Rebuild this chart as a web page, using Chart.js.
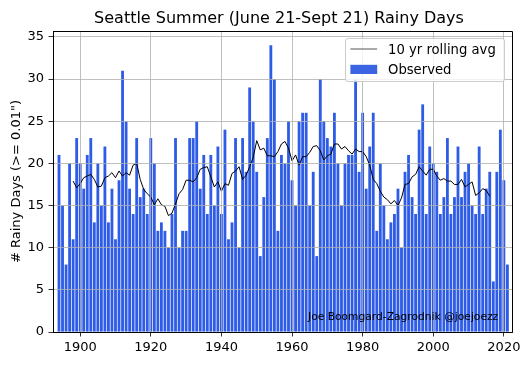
<!DOCTYPE html>
<html>
<head>
<meta charset="utf-8">
<script src="https://cdn.jsdelivr.net/npm/chart.js@4.4.1/dist/chart.umd.min.js"></script>
<style>
html,body{margin:0;padding:0;background:#ffffff;}
#wrap{width:531px;height:365px;position:relative;}
</style>
</head>
<body>
<div id="wrap"><canvas id="c" width="531" height="365"></canvas></div>
<script>
// ---- data ----
const years = [
  1894,1895,1896,1897,1898,1899,1900,1901,1902,1903,1904,1905,1906,1907,1908,1909,
  1910,1911,1912,1913,1914,1915,1916,1917,1918,1919,1920,1921,1922,1923,1924,1925,
  1926,1927,1928,1929,1930,1931,1932,1933,1934,1935,1936,1937,1938,1939,1940,1941,
  1942,1943,1944,1945,1946,1947,1948,1949,1950,1951,1952,1953,1954,1955,1956,1957,
  1958,1959,1960,1961,1962,1963,1964,1965,1966,1967,1968,1969,1970,1971,1972,1973,
  1974,1975,1976,1977,1978,1979,1980,1981,1982,1983,1984,1985,1986,1987,1988,1989,
  1990,1991,1992,1993,1994,1995,1996,1997,1998,1999,2000,2001,2002,2003,2004,2005,
  2006,2007,2008,2009,2010,2011,2012,2013,2014,2015,2016,2017,2018,2019,2020,2021
];
const observed = [
  21,15,8,20,11,23,20,17,21,23,13,20,15,22,13,17,
  11,18,31,25,17,14,23,16,17,14,23,20,12,13,12,10,
  14,23,10,12,12,23,23,25,17,21,14,21,15,22,14,24,
  11,13,23,10,23,19,29,25,19,9,16,23,34,30,12,21,
  20,25,18,15,25,26,26,15,19,9,30,25,23,22,26,20,
  15,20,21,21,30,19,26,17,22,26,12,20,15,11,13,14,
  17,10,19,21,16,14,24,27,14,22,20,19,14,16,23,14,
  16,22,16,19,20,15,14,22,14,17,19,6,19,24,18,8
];
// 10 yr rolling average line, 1898 .. 2016
const rollYears = years.slice(4, 123);
const rolling = [
  17.9,17.1,17.6,18.3,18.5,18.7,18.1,17.2,17.3,18.3,
  18.5,18.9,18.3,19.1,18.5,18.9,18.6,19.8,20.0,18.1,
  16.9,16.4,16.0,15.1,15.8,15.1,14.9,13.8,14.1,15.2,
  16.4,16.9,18.0,18.0,17.8,18.3,19.3,19.5,19.6,18.4,
  17.2,17.8,16.7,17.6,17.4,18.8,19.1,19.6,18.1,18.6,
  19.6,20.7,22.7,21.6,21.8,20.9,20.9,20.8,21.4,22.3,
  22.6,21.8,20.3,21.0,19.8,20.8,20.8,21.3,22.0,22.1,
  21.5,20.4,20.9,21.1,22.3,22.3,21.7,22.0,21.5,21.1,
  21.7,21.4,21.4,20.8,19.8,18.1,17.6,16.7,16.0,15.7,
  15.2,15.6,15.0,15.9,17.5,17.6,18.4,18.7,19.6,19.1,
  18.6,19.3,19.3,18.5,18.0,18.2,17.9,17.9,17.5,17.5,
  18.1,17.2,17.5,17.8,16.2,16.5,17.0,16.8,16.1
];
const xTicks = [1900,1920,1940,1960,1980,2000,2020];
const yTicks = [0,5,10,15,20,25,30,35];
const titleText = 'Seattle Summer (June 21-Sept 21) Rainy Days';
const yLabel = '# Rainy Days (>= 0.01")';
const creditText = 'Joe Boomgard-Zagrodnik @joejoezz';
const seriesNames = ['10 yr rolling avg', 'Observed'];

// ---- styles ----
const FONT = '"DejaVu Sans", "Liberation Sans", sans-serif';
const BAR_COLOR = '#2e5ce6';
const LEGEND_PATCH = '#3b64e2';
const LINE_COLOR = '#000000';
Chart.defaults.font.family = FONT;
Chart.defaults.color = '#000000';

const barData = years.map((y, i) => ({x: y, y: observed[i]}));
const lineData = rollYears.map((y, i) => ({x: y, y: rolling[i]}));

const decor = {
  id: 'decor',
  afterDraw(chart) {
    const ctx = chart.ctx;
    const a = chart.chartArea;
    ctx.save();
    // top and right spines
    ctx.strokeStyle = '#000';
    ctx.lineWidth = 1;
    ctx.beginPath();
    ctx.moveTo(Math.round(a.left), Math.round(a.top) + 0.5);
    ctx.lineTo(Math.round(a.right) + 0.5, Math.round(a.top) + 0.5);
    ctx.lineTo(Math.round(a.right) + 0.5, Math.round(a.bottom));
    ctx.stroke();
    // title
    ctx.fillStyle = '#000';
    ctx.font = '16px ' + FONT;
    ctx.textAlign = 'center';
    ctx.textBaseline = 'alphabetic';
    ctx.fillText(titleText, 279, 23);
    // credit
    ctx.font = '10.7px ' + FONT;
    ctx.textAlign = 'left';
    ctx.fillText(creditText, 308, 320);
    // legend
    const bx = 345.5, by = 38.5, bw = 159, bh = 43, r = 2.5;
    ctx.beginPath();
    ctx.moveTo(bx + r, by);
    ctx.lineTo(bx + bw - r, by);
    ctx.arcTo(bx + bw, by, bx + bw, by + r, r);
    ctx.lineTo(bx + bw, by + bh - r);
    ctx.arcTo(bx + bw, by + bh, bx + bw - r, by + bh, r);
    ctx.lineTo(bx + r, by + bh);
    ctx.arcTo(bx, by + bh, bx, by + bh - r, r);
    ctx.lineTo(bx, by + r);
    ctx.arcTo(bx, by, bx + r, by, r);
    ctx.closePath();
    ctx.fillStyle = 'rgba(255,255,255,0.8)';
    ctx.fill();
    ctx.strokeStyle = '#cccccc';
    ctx.lineWidth = 1;
    ctx.stroke();
    ctx.strokeStyle = '#555555';
    ctx.lineWidth = 1;
    ctx.beginPath();
    ctx.moveTo(350.4, 49);
    ctx.lineTo(377.2, 49);
    ctx.stroke();
    ctx.fillStyle = LEGEND_PATCH;
    ctx.fillRect(350.4, 64.8, 26.8, 9.2);
    ctx.fillStyle = '#000';
    ctx.font = '13.2px ' + FONT;
    ctx.fillText(seriesNames[0], 388, 54);
    ctx.fillText(seriesNames[1], 388, 74);
    ctx.restore();
  }
};

new Chart(document.getElementById('c'), {
  type: 'bar',
  data: {
    datasets: [
      {
        type: 'line',
        label: seriesNames[0],
        data: lineData,
        borderColor: LINE_COLOR,
        borderWidth: 1,
        pointRadius: 0,
        tension: 0,
        fill: false,
        order: 0
      },
      {
        type: 'bar',
        label: seriesNames[1],
        data: barData,
        backgroundColor: BAR_COLOR,
        borderWidth: 0,
        barPercentage: 0.8,
        categoryPercentage: 1.0,
        order: 1
      }
    ]
  },
  options: {
    responsive: false,
    animation: false,
    devicePixelRatio: 1,
    layout: {padding: {top: 31, right: 19, left: 0, bottom: 0}},
    plugins: {legend: {display: false}, tooltip: {enabled: false}, title: {display: false}},
    scales: {
      x: {
        type: 'linear',
        min: 1892.3,
        max: 2022.3,
        offset: false,
        afterBuildTicks: s => { s.ticks = xTicks.map(v => ({value: v})); },
        afterFit: s => { s.height = 33; s.paddingLeft = 0; s.paddingRight = 0; },
        ticks: {callback: v => String(v), font: {size: 13, family: FONT}, color: '#000', padding: 3, maxRotation: 0, autoSkip: false},
        grid: {offset: false, color: '#b0b0b0', lineWidth: 0.8, tickColor: '#000', tickLength: 4.5, tickWidth: 0.8, z: 1},
        border: {display: true, color: '#000', width: 1, z: 2}
      },
      y: {
        type: 'linear',
        min: 0,
        max: 35.7,
        afterBuildTicks: s => { s.ticks = yTicks.map(v => ({value: v})); },
        afterFit: s => { s.width = 53; s.paddingTop = 0; s.paddingBottom = 0; },
        ticks: {callback: v => String(v), font: {size: 13, family: FONT}, color: '#000', padding: 4.5},
        grid: {offset: false, color: '#b0b0b0', lineWidth: 0.8, tickColor: '#000', tickLength: 4.5, tickWidth: 0.8, z: 1},
        border: {display: true, color: '#000', width: 1, z: 2},
        title: {display: true, text: yLabel, font: {size: 13, family: FONT}, color: '#000', padding: {top: 9, bottom: 0}}
      }
    }
  },
  plugins: [decor]
});
</script>
</body>
</html>
